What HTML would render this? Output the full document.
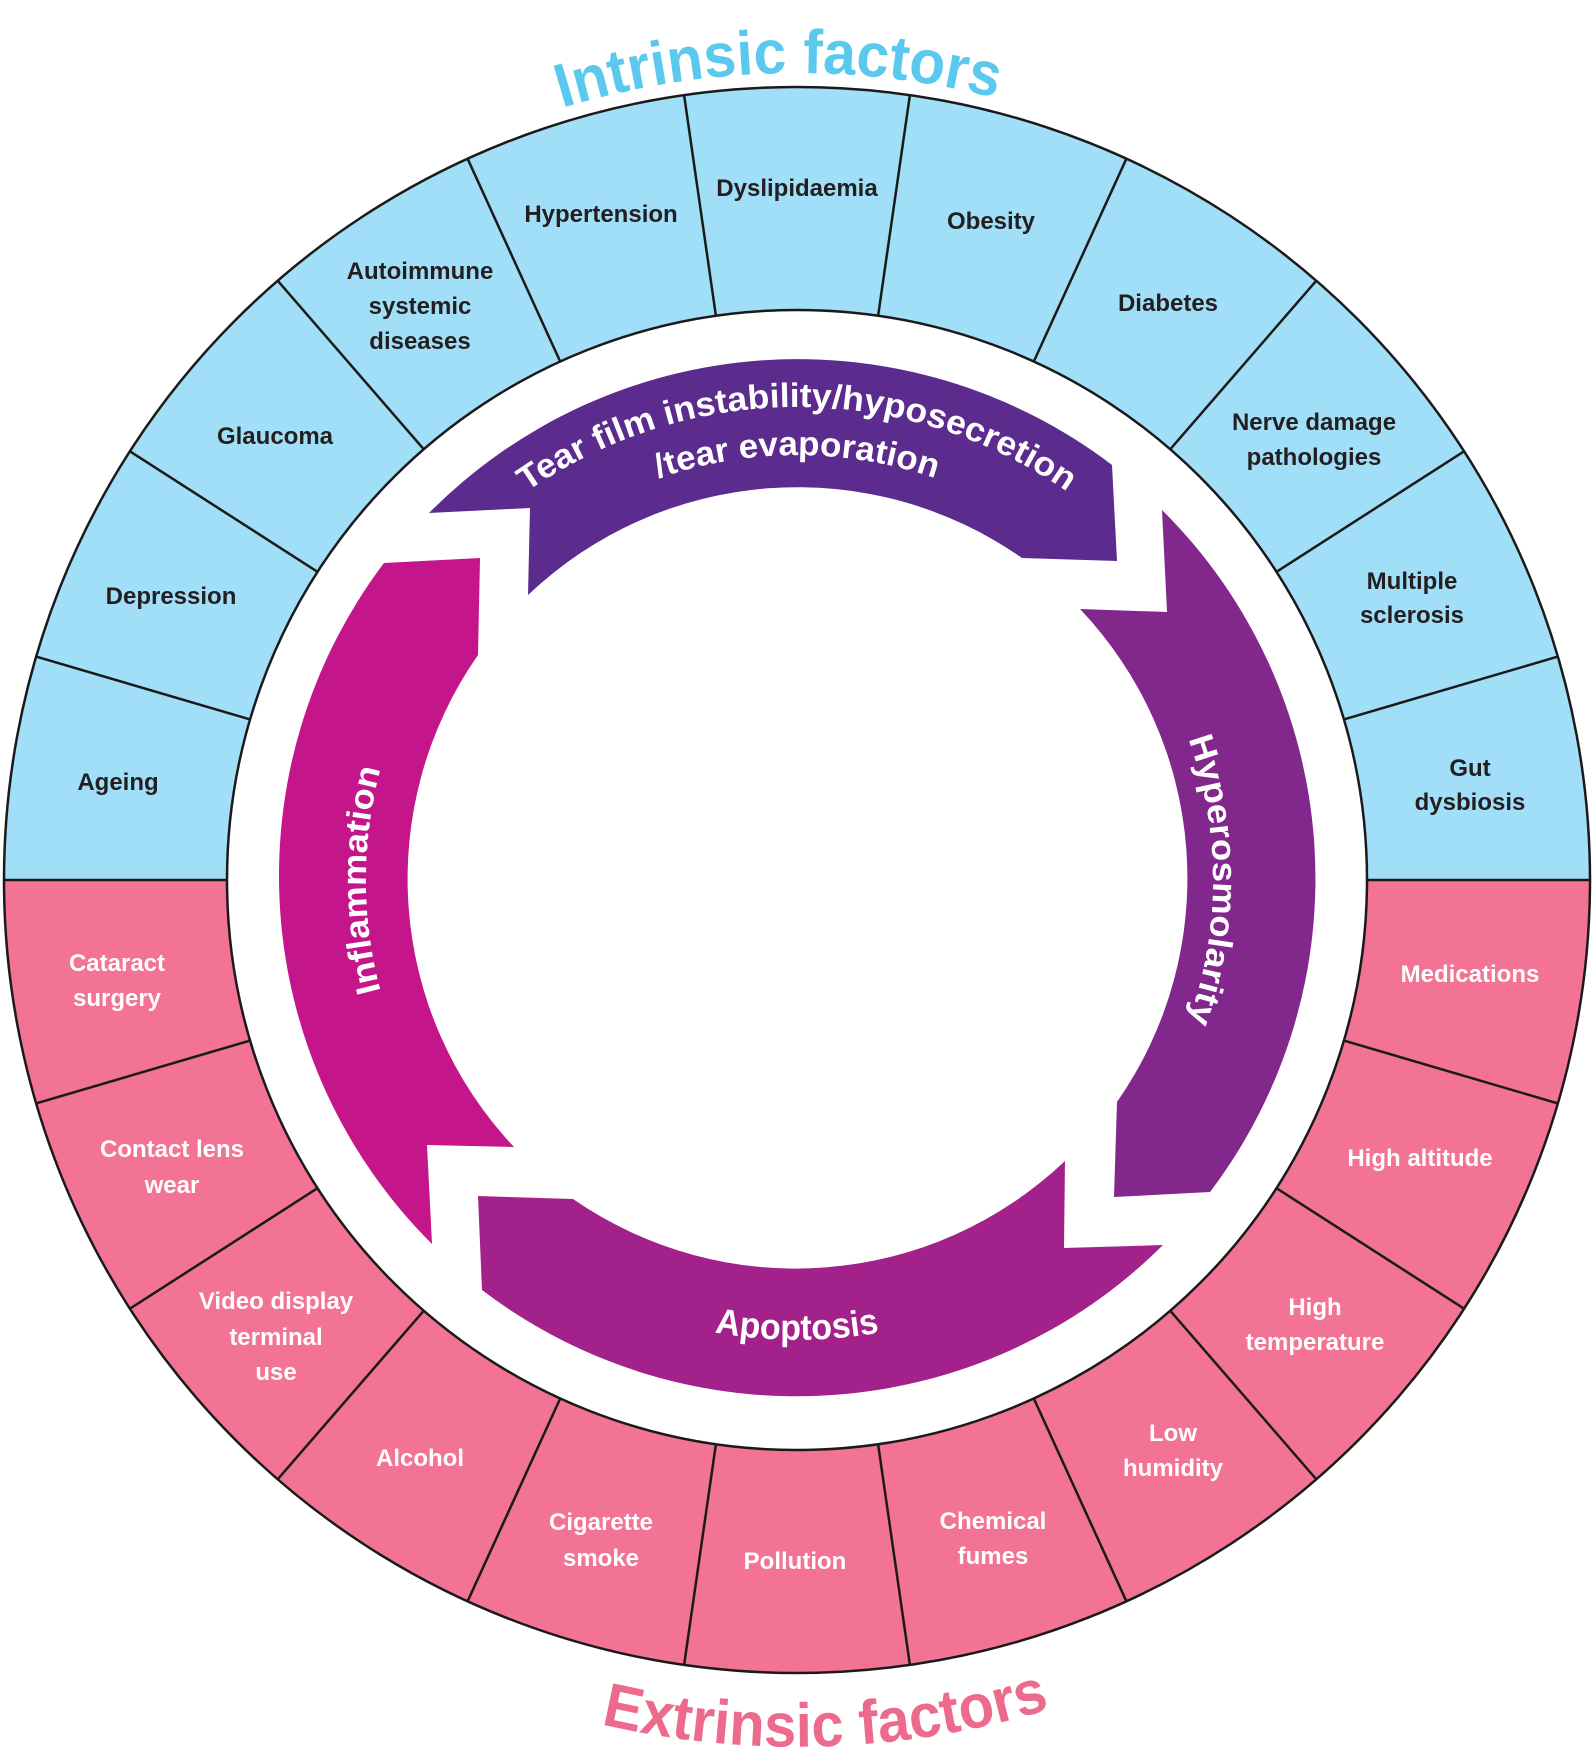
<!DOCTYPE html>
<html><head><meta charset="utf-8"><style>
html,body{margin:0;padding:0;background:#fff;}
svg{display:block;}
.lb{font-family:"Liberation Sans",sans-serif;font-weight:bold;font-size:24px;text-anchor:middle;}
.bk{fill:#231f20;}
.wh{fill:#fff;}
.ar{font-family:"Liberation Sans",sans-serif;font-weight:bold;fill:#fff;}
</style></head><body>
<svg width="1594" height="1756" viewBox="0 0 1594 1756" xmlns="http://www.w3.org/2000/svg">
<defs>
<path id="pTop1" d="M 324 880 A 473 473 0 0 1 1270 880"/>
<path id="pTop2" d="M 372 880 A 425 425 0 0 1 1222 880"/>
<path id="pRight" d="M 797 464 A 416 416 0 0 1 797 1296"/>
<path id="pLeft" d="M 797 1311 A 431 431 0 0 1 797 449"/>
<path id="pBot" d="M 337 880 A 460 460 0 0 0 1257 880"/>
<path id="pTitle" d="M -10 880 A 807 807 0 0 1 1604 880"/>
<path id="pTitle2" d="M -70 880 A 867 867 0 0 0 1664 880"/>
</defs>
<path d="M 4 880 A 793 793 0 0 1 1590 880 L 1367 880 A 570 570 0 0 0 227 880 Z" fill="#a1def7"/>
<path d="M 4 880 A 793 793 0 0 0 1590 880 L 1367 880 A 570 570 0 0 1 227 880 Z" fill="#f27394"/>
<g stroke="#1a1a1a" stroke-width="2.5" fill="none">
<circle cx="797" cy="880" r="793"/>
<circle cx="797" cy="880" r="570"/>
<line x1="4" y1="880" x2="227" y2="880"/>
<line x1="1367" y1="880" x2="1590" y2="880"/>
<line x1="250.1" y1="719.4" x2="36.1" y2="656.6"/>
<line x1="317.5" y1="571.8" x2="129.9" y2="451.3"/>
<line x1="423.7" y1="449.2" x2="277.7" y2="280.7"/>
<line x1="560.2" y1="361.5" x2="467.6" y2="158.7"/>
<line x1="715.9" y1="315.8" x2="684.1" y2="95.1"/>
<line x1="878.1" y1="315.8" x2="909.9" y2="95.1"/>
<line x1="1033.8" y1="361.5" x2="1126.4" y2="158.7"/>
<line x1="1170.3" y1="449.2" x2="1316.3" y2="280.7"/>
<line x1="1276.5" y1="571.8" x2="1464.1" y2="451.3"/>
<line x1="1343.9" y1="719.4" x2="1557.9" y2="656.6"/>
<line x1="250.1" y1="1040.6" x2="36.1" y2="1103.4"/>
<line x1="317.5" y1="1188.2" x2="129.9" y2="1308.7"/>
<line x1="423.7" y1="1310.8" x2="277.7" y2="1479.3"/>
<line x1="560.2" y1="1398.5" x2="467.6" y2="1601.3"/>
<line x1="715.9" y1="1444.2" x2="684.1" y2="1664.9"/>
<line x1="878.1" y1="1444.2" x2="909.9" y2="1664.9"/>
<line x1="1033.8" y1="1398.5" x2="1126.4" y2="1601.3"/>
<line x1="1170.3" y1="1310.8" x2="1316.3" y2="1479.3"/>
<line x1="1276.5" y1="1188.2" x2="1464.1" y2="1308.7"/>
<line x1="1343.9" y1="1040.6" x2="1557.9" y2="1103.4"/>
</g>
<g class="lb bk">
<text x="118" y="790">Ageing</text>
<text x="171" y="604">Depression</text>
<text x="275" y="444">Glaucoma</text>
<text x="420" y="279">Autoimmune</text>
<text x="420" y="314">systemic</text>
<text x="420" y="349">diseases</text>
<text x="601" y="222">Hypertension</text>
<text x="797" y="196">Dyslipidaemia</text>
<text x="991" y="229">Obesity</text>
<text x="1168" y="311">Diabetes</text>
<text x="1314" y="430">Nerve damage</text>
<text x="1314" y="465">pathologies</text>
<text x="1412" y="589">Multiple</text>
<text x="1412" y="623">sclerosis</text>
<text x="1470" y="776">Gut</text>
<text x="1470" y="810">dysbiosis</text>
</g>
<g class="lb wh">
<text x="117" y="971">Cataract</text>
<text x="117" y="1006">surgery</text>
<text x="172" y="1157">Contact lens</text>
<text x="172" y="1193">wear</text>
<text x="276" y="1309">Video display</text>
<text x="276" y="1345">terminal</text>
<text x="276" y="1380">use</text>
<text x="420" y="1466">Alcohol</text>
<text x="601" y="1530">Cigarette</text>
<text x="601" y="1566">smoke</text>
<text x="795" y="1569">Pollution</text>
<text x="993" y="1529">Chemical</text>
<text x="993" y="1564">fumes</text>
<text x="1173" y="1441">Low</text>
<text x="1173" y="1476">humidity</text>
<text x="1315" y="1315">High</text>
<text x="1315" y="1350">temperature</text>
<text x="1420" y="1166">High altitude</text>
<text x="1470" y="982">Medications</text>
</g>
<path d="M 429 513 A 519 519 0 0 1 1112 465 L 1117 561 L 1022 558 A 391 391 0 0 0 528 595 L 530 508 Z" fill="#5b2c8e"/>
<path d="M 1162 510 A 519 519 0 0 1 1210 1192 L 1114 1197 L 1117 1102 A 391 391 0 0 0 1080 609 L 1167 612 Z" fill="#82278c"/>
<path d="M 1163 1245 A 519 519 0 0 1 482 1290 L 478 1196 L 573 1199 A 391 391 0 0 0 1065 1161 L 1064 1248 Z" fill="#a3218a"/>
<path d="M 432 1244 A 519 519 0 0 1 384 563 L 480 558 L 478 655 A 391 391 0 0 0 514 1147 L 427 1145 Z" fill="#c4168a"/>
<text class="ar" font-size="34"><textPath href="#pTop1" startOffset="50%" text-anchor="middle" textLength="575" lengthAdjust="spacingAndGlyphs">Tear film instability/hyposecretion</textPath></text>
<text class="ar" font-size="34"><textPath href="#pTop2" startOffset="50%" text-anchor="middle" textLength="282" lengthAdjust="spacingAndGlyphs">/tear evaporation</textPath></text>
<text class="ar" font-size="34"><textPath href="#pRight" startOffset="50%" text-anchor="middle" textLength="288" lengthAdjust="spacingAndGlyphs">Hyperosmolarity</textPath></text>
<text class="ar" font-size="34"><textPath href="#pLeft" startOffset="50%" text-anchor="middle" textLength="225" lengthAdjust="spacingAndGlyphs">Inflammation</textPath></text>
<text class="ar" font-size="36"><textPath href="#pBot" startOffset="50%" text-anchor="middle" textLength="166" lengthAdjust="spacingAndGlyphs">Apoptosis</textPath></text>
<text font-family="Liberation Sans,sans-serif" font-weight="bold" font-size="62" fill="#5bc8ee"><textPath href="#pTitle" startOffset="1249" text-anchor="middle" textLength="440" lengthAdjust="spacingAndGlyphs">Intrinsic factors</textPath></text>
<text font-family="Liberation Sans,sans-serif" font-weight="bold" font-size="62" fill="#ec6b8d"><textPath href="#pTitle2" startOffset="1391" text-anchor="middle" textLength="455" lengthAdjust="spacingAndGlyphs">Extrinsic factors</textPath></text>
</svg>
</body></html>
